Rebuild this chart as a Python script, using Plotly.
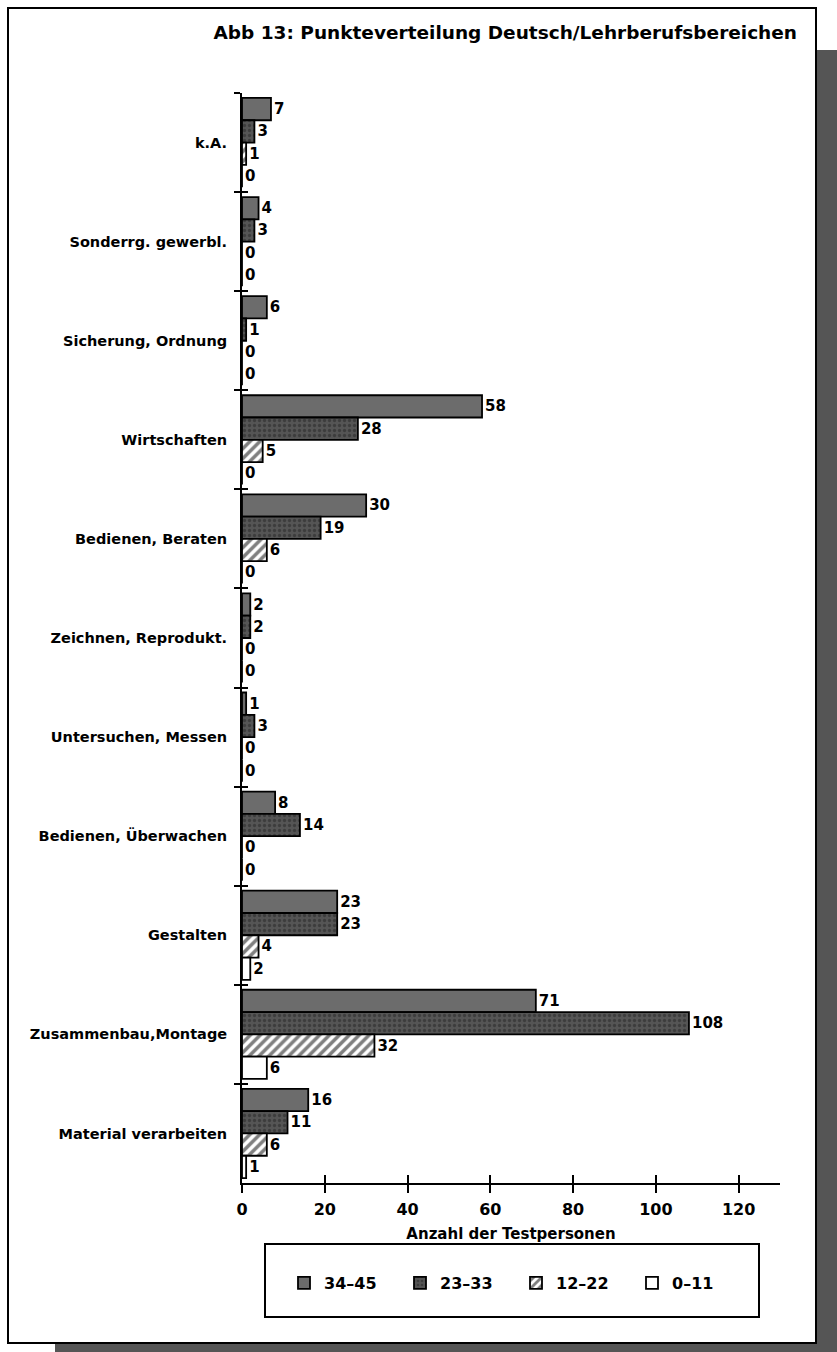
import plotly.graph_objects as go

categories = [
    "k.A.",
    "Sonderrg. gewerbl.",
    "Sicherung, Ordnung",
    "Wirtschaften",
    "Bedienen, Beraten",
    "Zeichnen, Reprodukt.",
    "Untersuchen, Messen",
    "Bedienen, Überwachen",
    "Gestalten",
    "Zusammenbau,Montage",
    "Material verarbeiten",
]
series_names = ["34–45", "23–33", "12–22", "0–11"]
vals_34_45 = [7, 4, 6, 58, 30, 2, 1, 8, 23, 71, 16]
vals_23_33 = [3, 3, 1, 28, 19, 2, 3, 14, 23, 108, 11]
vals_12_22 = [1, 0, 0, 5, 6, 0, 0, 0, 4, 32, 6]
vals_0_11 = [0, 0, 0, 0, 0, 0, 0, 0, 2, 6, 1]
x_ticks = [0, 20, 40, 60, 80, 100, 120]

W, H = 837, 1352
ML, MR, MT, MB = 242, 57, 93, 169
PW = W - ML - MR
PH = H - MT - MB


def px(xpix):
    return (xpix - ML) / PW


def py(ypix):
    return (H - MB - ypix) / PH


FONT = "DejaVu Sans"
styles = [
    dict(color="#6c6c6c", pattern=None),
    dict(color="#4a4a4a", pattern=dict(shape=".", bgcolor="#555555", fgcolor="#252525", size=5, solidity=0.35)),
    dict(color="white", pattern=dict(shape="/", bgcolor="white", fgcolor="black", size=7, solidity=0.5)),
    dict(color="white", pattern=None),
]
all_vals = [vals_34_45, vals_23_33, vals_12_22, vals_0_11]

fig = go.Figure()
for name, vals, st in zip(series_names, all_vals, styles):
    marker = dict(color=st["color"], line=dict(color="black", width=1.8))
    if st["pattern"]:
        marker["pattern"] = st["pattern"]
    fig.add_trace(go.Bar(
        y=categories, x=vals, name=name, orientation="h", marker=marker,
        text=[str(v) for v in vals], textposition="outside", cliponaxis=False,
        constraintext="none",
        textfont=dict(family=FONT, size=15, color="black", weight="bold"),
    ))

# helper trace for crossing tick marks
fig.add_trace(go.Scatter(
    y=categories, x=[0] * len(categories), xaxis="x2", yaxis="y2", mode="markers",
    marker=dict(opacity=0), showlegend=False, hoverinfo="skip",
))

cat_range = [len(categories) - 0.5, -0.5]

fig.update_layout(
    width=W, height=H,
    margin=dict(l=ML, r=MR, t=MT, b=MB, pad=0),
    paper_bgcolor="white", plot_bgcolor="rgba(0,0,0,0)",
    barmode="group", bargap=0.1, bargroupgap=0,
    font=dict(family=FONT, color="black"),
    title=dict(
        text="Abb 13: Punkteverteilung Deutsch/Lehrberufsbereichen",
        x=797 / W, xanchor="right", xref="container",
        y=1 - 33 / H, yanchor="middle", yref="container",
        font=dict(family=FONT, size=18.5, color="black", weight="bold"),
    ),
    xaxis=dict(
        range=[0, 130], tickvals=x_ticks, ticks="outside", ticklen=8, tickwidth=2,
        tickcolor="black", showline=True, linecolor="black", linewidth=2,
        showgrid=False, zeroline=False, ticklabelstandoff=3,
        tickfont=dict(family=FONT, size=16, color="black", weight="bold"),
        title=dict(text="Anzahl der Testpersonen", standoff=10,
                   font=dict(family=FONT, size=15, color="black", weight="bold")),
    ),
    xaxis2=dict(
        overlaying="x", anchor="y", side="bottom", range=[0, 130], tickvals=x_ticks,
        ticks="inside", ticklen=8, tickwidth=2, tickcolor="black",
        showticklabels=False, showline=False, showgrid=False, zeroline=False,
    ),
    yaxis=dict(
        type="category", categoryorder="array", categoryarray=categories,
        range=cat_range, tickson="boundaries", ticks="outside", ticklen=6,
        tickwidth=2, tickcolor="black", showline=True, linecolor="black",
        linewidth=2, showgrid=False, zeroline=False, ticklabelstandoff=10,
        tickfont=dict(family=FONT, size=14.5, color="black", weight="bold"),
    ),
    yaxis2=dict(
        type="category", categoryorder="array", categoryarray=categories,
        overlaying="y", anchor="x", side="left", range=cat_range,
        tickson="boundaries", ticks="inside", ticklen=6, tickwidth=2,
        tickcolor="black", showticklabels=False, showline=False,
        showgrid=False, zeroline=False,
    ),
    legend=dict(
        orientation="h", traceorder="normal",
        x=px(284), xanchor="left", y=py(1283), yanchor="middle",
        bgcolor="rgba(0,0,0,0)", borderwidth=0,
        entrywidth=71, entrywidthmode="pixels",
        font=dict(family=FONT, size=16, color="black", weight="bold"),
    ),
    showlegend=True,
)

shapes = [
    # shadow
    dict(type="rect", xref="paper", yref="paper", x0=px(815), x1=px(837), y0=py(1352), y1=py(50),
         fillcolor="#555555", line=dict(width=0), layer="below"),
    dict(type="rect", xref="paper", yref="paper", x0=px(55), x1=px(837), y0=py(1352), y1=py(1343),
         fillcolor="#555555", line=dict(width=0), layer="below"),
    # white frame
    dict(type="rect", xref="paper", yref="paper", x0=px(8), x1=px(816), y0=py(1343), y1=py(8),
         fillcolor="white", line=dict(color="black", width=2), layer="below"),
    # legend frame
    dict(type="rect", xref="paper", yref="paper", x0=px(265), x1=px(759), y0=py(1317), y1=py(1244),
         fillcolor="rgba(0,0,0,0)", line=dict(color="black", width=2), layer="below"),
]
fig.update_layout(shapes=shapes)

fig.write_html("out.html")
